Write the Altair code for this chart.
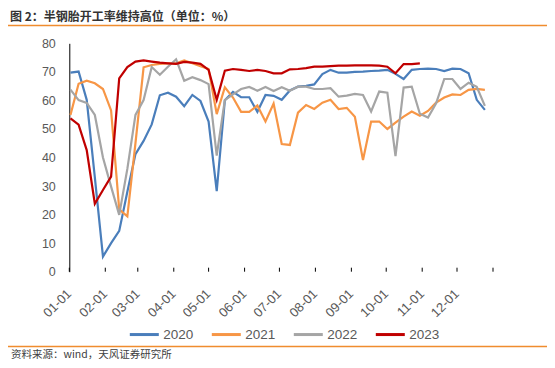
import altair as alt
import pandas as pd

# ---------------- data ----------------
week_dates = ["01-02", "01-09", "01-16", "01-23", "01-30", "02-06", "02-13", "02-20", "02-27",
              "03-06", "03-13", "03-20", "03-27", "04-03", "04-10", "04-17", "04-24", "05-01",
              "05-08", "05-15", "05-22", "05-29", "06-05", "06-12", "06-19", "06-26", "07-03",
              "07-10", "07-17", "07-24", "07-31", "08-07", "08-14", "08-21", "08-28", "09-04",
              "09-11", "09-18", "09-25", "10-02", "10-09", "10-16", "10-23", "10-30", "11-06",
              "11-13", "11-20", "11-27", "12-04", "12-11", "12-18", "12-25"]

v2020 = [69.7, 70.1, 60.2, 33.0, 5.3, 10.0, 14.3, 28.0, 41.2, 45.8, 51.6, 61.8, 62.7, 61.3,
         58.0, 61.9, 59.8, 52.6, 28.2, 60.1, 63.0, 61.1, 61.1, 56.0, 61.9, 61.6, 60.2, 63.5,
         64.8, 65.1, 65.6, 69.2, 70.7, 69.7, 69.7, 70.0, 70.1, 70.3, 70.4, 70.7, 69.3, 67.5,
         70.7, 71.0, 71.1, 71.0, 70.3, 71.1, 71.0, 69.5, 60.2, 56.7]

v2021 = [54.9, 65.8, 66.9, 66.0, 64.0, 56.5, 21.8, 19.4, 45.0, 71.6, 72.4, 72.8, 73.0, 73.0,
         74.0, 73.0, 72.0, 71.0, 55.2, 64.6, 61.0, 56.0, 56.0, 58.2, 52.6, 58.9, 44.7, 44.4,
         55.7, 58.4, 57.0, 59.2, 60.2, 57.0, 57.4, 54.3, 39.1, 52.6, 52.6, 50.0, 52.2, 54.3,
         56.1, 54.6, 56.3, 59.2, 61.0, 62.1, 61.9, 63.7, 64.0, 63.7]

v2022 = [63.8, 60.1, 59.1, 54.9, 40.0, 29.8, 19.9, 36.0, 54.9, 60.1, 71.7, 69.0, 71.8, 74.4,
         66.9, 68.1, 67.1, 65.7, 40.7, 60.1, 62.1, 64.0, 64.7, 63.4, 64.7, 63.3, 64.6, 63.4,
         64.8, 64.8, 64.0, 64.0, 64.3, 61.3, 61.7, 62.3, 61.9, 56.1, 63.1, 62.7, 40.5, 64.5,
         64.8, 55.3, 54.0, 59.0, 67.5, 67.5, 64.0, 66.2, 64.8, 58.1]

v2023 = [53.7, 51.5, 42.6, 23.8, 28.6, 33.3, 67.7, 71.7, 73.6, 74.0, 73.6, 73.2, 73.0, 72.8,
         73.5, 73.2, 72.8, 70.7, 60.2, 70.4, 71.0, 70.7, 70.3, 70.7, 70.3, 69.5, 69.5, 70.9,
         71.0, 71.3, 71.8, 71.8, 72.0, 72.2, 72.2, 72.3, 72.3, 72.3, 72.2, 71.8, 69.5, 72.7,
         72.7, 73.0]

years = ["2020", "2021", "2022", "2023"]
colors = ["#4A7EBB", "#F79646", "#A5A5A5", "#C00000"]
month_labels = ["01-01", "02-01", "03-01", "04-01", "05-01", "06-01",
                "07-01", "08-01", "09-01", "10-01", "11-01", "12-01"]
y_ticks = [0, 10, 20, 30, 40, 50, 60, 70, 80]

title_text = "图 2：半钢胎开工率维持高位（单位：%）"
source_text = "资料来源：wind，天风证券研究所"

# ---------------- build tables ----------------
def doy(md):
    return int(pd.Timestamp("2023-" + md).dayofyear) - 1

week_days = [doy(d) for d in week_dates]
month_days = [doy(m) for m in month_labels]
tick_days = month_days + [365]

rows = []
for yr, vals in zip(years, [v2020, v2021, v2022, v2023]):
    for d, v in zip(week_days, vals):
        rows.append({"day": d, "value": v, "year": yr})
df = pd.DataFrame(rows)
labels_df = pd.DataFrame({"day": month_days, "label": month_labels})

W, H = 423.7, 228.4
PL, PT = 61.3, 35.3
PR = 539 - PL - W
PB = 352 - PT - H

font = "Liberation Sans"
cjk = "Noto Sans CJK SC"

x_scale = alt.Scale(domain=[0, 365], nice=False, zero=False)

lines = alt.Chart(df).mark_line(strokeWidth=2.2).encode(
    x=alt.X("day:Q", scale=x_scale,
            axis=alt.Axis(values=month_days, labels=False, ticks=False, grid=False,
                          domainColor="#000000", domainWidth=1, title=None)),
    y=alt.Y("value:Q", scale=alt.Scale(domain=[0, 80], nice=False),
            axis=alt.Axis(values=y_ticks, ticks=False, grid=False, domainColor="#000000",
                          domainWidth=1, labelFont=font, labelFontSize=12.5,
                          labelColor="#595959", labelPadding=14, title=None)),
    color=alt.Color("year:N", scale=alt.Scale(domain=years, range=colors),
                    legend=alt.Legend(orient="none", legendX=59, legendY=275,
                                      direction="horizontal", title=None,
                                      symbolType="stroke", symbolSize=841,
                                      symbolStrokeWidth=3, labelFont=font,
                                      labelFontSize=13.5, labelColor="#595959",
                                      labelOffset=3, columnPadding=11)),
    order=alt.Order("year:N"),
)

ticks_df = pd.DataFrame({"day": tick_days})
xticks = alt.Chart(ticks_df).mark_rule(color="#000000", strokeWidth=1).encode(
    x=alt.X("day:Q", scale=x_scale, axis=None),
    y=alt.value(H - 4), y2=alt.value(H),
)

xlabels = alt.Chart(labels_df).mark_text(
    angle=315, align="right", baseline="middle", font=font, fontSize=13,
    color="#595959").encode(
    x=alt.X("day:Q", scale=x_scale, axis=None),
    y=alt.value(H + 20),
    text="label:N",
)

title = alt.Chart(pd.DataFrame({"t": [title_text]})).mark_text(
    align="left", baseline="middle", font=cjk, fontSize=12, fontWeight="bold",
    color="#333333").encode(text="t:N", x=alt.value(-59.3), y=alt.value(-26.0))

source = alt.Chart(pd.DataFrame({"t": [source_text]})).mark_text(
    align="left", baseline="middle", font=cjk, fontSize=10.5,
    color="#404040").encode(text="t:N", x=alt.value(-58.3), y=alt.value(311.2))

top_line = alt.Chart(pd.DataFrame({"k": ["top"]})).mark_rule(
    color="#F08C2E", strokeWidth=1.5).encode(
    x=alt.value(-PL), x2=alt.value(W + PR), y=alt.value(-17.8))
bottom_line = alt.Chart(pd.DataFrame({"k": ["bottom"]})).mark_rule(
    color="#F08C2E", strokeWidth=1.5).encode(
    x=alt.value(-PL), x2=alt.value(W + PR), y=alt.value(303.2))

chart = alt.layer(lines, xticks, xlabels, title, source, top_line, bottom_line).properties(
    width=W, height=H,
    padding={"left": PL, "top": PT, "right": PR, "bottom": PB},
    autosize=alt.AutoSizeParams(type="none"),
).configure_view(stroke=None)

chart.save("out.html", embed_options={"renderer": "svg", "actions": False})
